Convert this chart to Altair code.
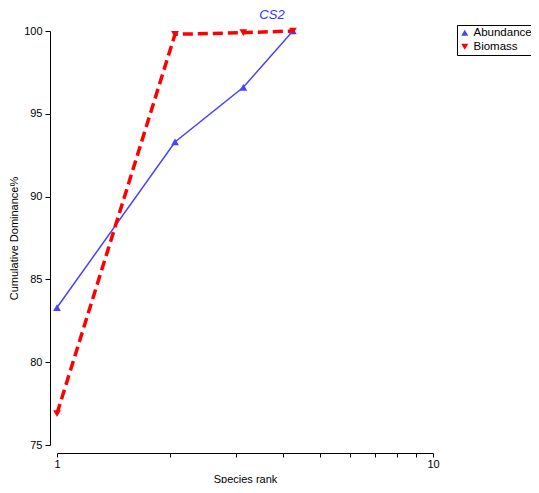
import altair as alt
import pandas as pd

# species rank positions
rank = [1.0, 2.06, 3.13, 4.24]
abundance = [83.3, 93.3, 96.6, 100.0]
biomass = [76.9, 99.8, 99.9, 100.0]
series = ["Abundance", "Biomass"]
colors = ["#4444FF", "#FF0000"]
shapes = ["triangle-up", "triangle-down"]

df = pd.DataFrame({
    "rank": rank * 2,
    "value": abundance + biomass,
    "series": [series[0]] * len(rank) + [series[1]] * len(rank),
})

x = alt.X("rank:Q", scale=alt.Scale(type="log", domain=[1, 10]),
          axis=alt.Axis(values=[1, 2, 3, 4, 5, 6, 7, 8, 9, 10],
                        labelExpr="datum.value == 1 || datum.value == 10 ? datum.label : ''",
                        title="Species rank", offset=8, tickSize=4, labelPadding=1,
                        labelFlush=False, labelOverlap=False,
                        titlePadding=4, domainColor="black", tickColor="black",
                        labelColor="black", titleColor="black", labelFontSize=11,
                        titleFontSize=11, titleFontWeight="normal", grid=False,
                        labelFont="Liberation Sans", titleFont="Liberation Sans"))
y = alt.Y("value:Q", scale=alt.Scale(domain=[75, 100], nice=False, zero=False),
          axis=alt.Axis(values=[75, 80, 85, 90, 95, 100], title="Cumulative Dominance%",
                        offset=7, tickSize=5, labelPadding=3, titlePadding=4,
                        labelFlush=False,
                        domainColor="black", tickColor="black", labelColor="black",
                        titleColor="black", labelFontSize=11, titleFontSize=11,
                        titleFontWeight="normal", grid=False,
                        labelFont="Liberation Sans", titleFont="Liberation Sans"))

base = alt.Chart(df)

line_a = base.transform_filter(alt.datum.series == series[0]).mark_line(
    color=colors[0], strokeWidth=1.5).encode(x=x, y=y)
line_b = base.transform_filter(alt.datum.series == series[1]).mark_line(
    color=colors[1], strokeWidth=3.5, strokeDash=[10, 5]).encode(x=x, y=y)

pts = base.mark_point(filled=True, opacity=1, size=60).encode(
    x=x, y=y,
    color=alt.Color("series:N", scale=alt.Scale(domain=series, range=colors),
                    legend=alt.Legend(title=None, orient="none", legendX=400, legendY=-6,
                                      strokeColor="black", padding=2, labelFontSize=11.5,
                                      labelFont="Liberation Sans", labelColor="black",
                                      symbolSize=50, rowPadding=1, labelOffset=3,
                                      fillColor="white")),
    shape=alt.Shape("series:N", scale=alt.Scale(domain=series, range=shapes)),
)

chart = alt.layer(line_a, line_b, pts).properties(
    width=376, height=414,
    background="white",
    padding={"left": 49, "top": 23, "right": 98, "bottom": 38},
    autosize=alt.AutoSizeParams(type="none"),
    title=alt.TitleParams("CS2", color="#3333FF", fontStyle="italic", fontSize=13,
                          fontWeight="normal", font="Liberation Sans", anchor="middle",
                          dx=27, offset=2),
).configure_view(stroke="transparent", strokeWidth=0).configure_axis(grid=False)

chart.save("out.html", embed_options={"renderer": "svg", "actions": False})
